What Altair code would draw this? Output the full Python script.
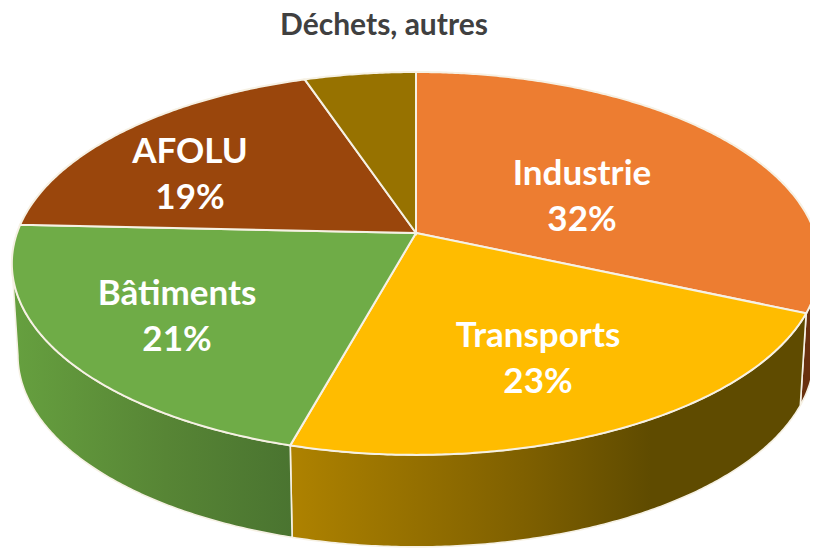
import numpy as np
import pandas as pd
import altair as alt

names = ["Industrie", "Transports", "Bâtiments", "AFOLU", "Déchets, autres"]
shares = [31.6, 22.7, 21.4, 19.1, 5.2]
top_colors = ["#ED7D31", "#FFBC00", "#6FAC47", "#9A460C", "#977200"]
label_x = [582, 538, 177, 190]
label_y = [174, 336, 294, 152]

# perspective of the tilted disc
APEX = (416.0, 233.0)
A, B, P = 399.0, 186.6, 0.159
DEPTH, SHRINK = 92.0, 0.985
SEAM = "#F6F1E4"


def rim(theta_deg):
    t = np.radians(theta_deg)
    w = 1 + P * np.cos(t)
    return A * np.sin(t) / w, -B * np.cos(t) / w


def arc(a, b):
    n = max(int(abs(b - a) * 2), 2)
    return np.linspace(a, b, n + 1)


cum = np.concatenate([[0], np.cumsum(shares)]) * 3.6
vis_a = np.degrees(np.arccos(-P))
vis_b = 360 - vis_a

x_s = alt.X("x:Q", axis=None, scale=alt.Scale(domain=[8, 810], nice=False, zero=False))
y_s = alt.Y("y:Q", axis=None, scale=alt.Scale(domain=[8, 549], nice=False, zero=False, reverse=True))


def grad(stops):
    return alt.LinearGradient(
        gradient="linear", x1=0, x2=1, y1=0, y2=0,
        stops=[alt.GradientStop(offset=o, color=c) for o, c in stops],
    )


def poly(px, py, fill, width=2.0):
    df = pd.DataFrame({"x": px, "y": py, "i": range(len(px))})
    return alt.Chart(df).mark_line(
        interpolate="linear-closed", fill=fill, stroke=SEAM, strokeWidth=width, clip=True
    ).encode(x=x_s, y=y_s, order="i:Q")


def side(a, b, fill):
    th = arc(a, b)
    dx, dy = rim(th)
    px = np.concatenate([APEX[0] + dx, (APEX[0] + SHRINK * dx)[::-1]])
    py = np.concatenate([APEX[1] + dy, (APEX[1] + dy + DEPTH)[::-1]])
    return poly(px, py, fill, 1.6)


layers = [
    side(vis_a, cum[1], "#69300E"),
    side(cum[1], cum[2], grad([(0, "#AE8200"), (0.45, "#7F6000"), (0.7, "#5F4B00"), (1, "#5F4B00")])),
    side(cum[2], vis_b, grad([(0, "#66A03F"), (0.55, "#578535"), (1, "#4A7430")])),
]

for k in range(len(shares)):
    dx, dy = rim(arc(cum[k], cum[k + 1]))
    px = np.concatenate([[APEX[0]], APEX[0] + dx])
    py = np.concatenate([[APEX[1]], APEX[1] + dy])
    layers.append(poly(px, py, top_colors[k]))

labels = pd.DataFrame({
    "x": label_x,
    "y": label_y,
    "t": [[n, f"{round(s)}%"] for n, s in zip(names[:4], shares[:4])],
})
layers.append(
    alt.Chart(labels).mark_text(
        font="Lato", fontWeight="bold", fontSize=35, color="white",
        lineHeight=46, baseline="middle", align="center",
    ).encode(x=x_s, y=y_s, text="t")
)
title_df = pd.DataFrame({"x": [384], "y": [26], "t": [names[4]]})
layers.append(
    alt.Chart(title_df).mark_text(
        font="Lato", fontWeight="bold", fontSize=30, color="#404040",
        baseline="middle", align="center",
    ).encode(x=x_s, y=y_s, text="t")
)

chart = alt.layer(*layers).properties(
    width=802, height=541, padding=0, autosize=alt.AutoSizeParams(type="none"),
    background="white",
).configure_view(stroke=None)

chart.save("out.html", embed_options={"renderer": "svg", "actions": False})
